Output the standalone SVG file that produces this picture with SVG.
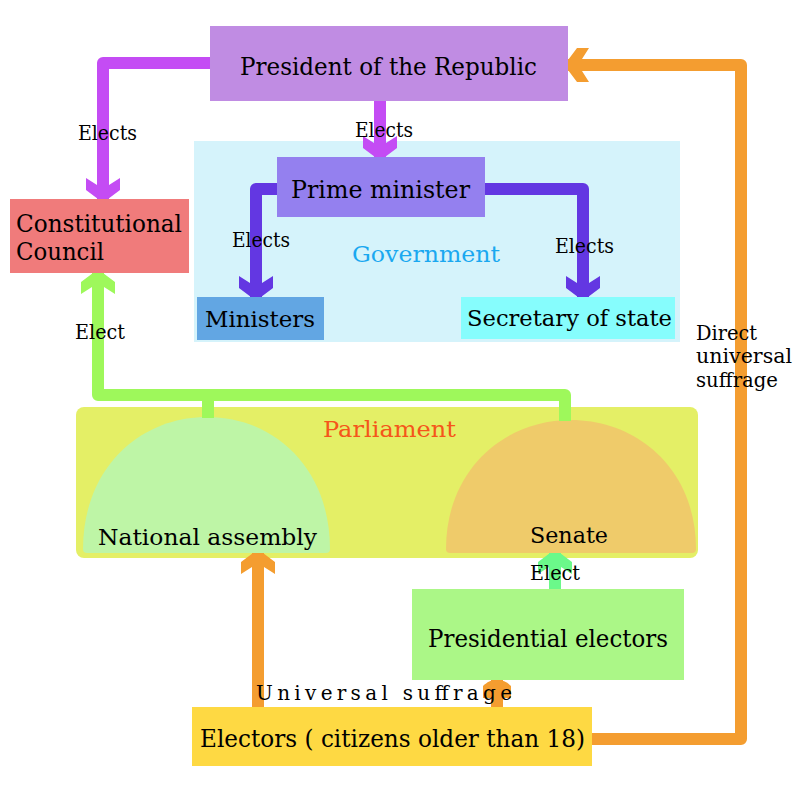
<svg xmlns="http://www.w3.org/2000/svg" width="800" height="800" viewBox="0 0 800 800">
<style>
text{font-family:"DejaVu Serif","Liberation Serif",serif;fill:#000}
.big{font-size:25px}
.mid{font-size:23px}
.lbl{font-size:20px}
.c{fill:none;stroke-width:12;stroke-linejoin:round}
</style>
<defs>
<marker id="ap" markerUnits="userSpaceOnUse" orient="auto" refX="0" refY="0" markerWidth="40" markerHeight="40" overflow="visible"><path d="M-21,-17 L-9,-17 L0,-5 L0,5 L-9,17 L-21,17 L-14,6 L-14,-6 Z" fill="#c44cf4"/></marker>
<marker id="ab" markerUnits="userSpaceOnUse" orient="auto" refX="0" refY="0" markerWidth="40" markerHeight="40" overflow="visible"><path d="M-21,-17 L-9,-17 L0,-5 L0,5 L-9,17 L-21,17 L-14,6 L-14,-6 Z" fill="#6337e2"/></marker>
<marker id="ao" markerUnits="userSpaceOnUse" orient="auto" refX="0" refY="0" markerWidth="40" markerHeight="40" overflow="visible"><path d="M-21,-17 L-9,-17 L0,-5 L0,5 L-9,17 L-21,17 L-14,6 L-14,-6 Z" fill="#f49d30"/></marker>
<marker id="ag" markerUnits="userSpaceOnUse" orient="auto" refX="0" refY="0" markerWidth="40" markerHeight="40" overflow="visible"><path d="M-21,-17 L-9,-17 L0,-5 L0,5 L-9,17 L-21,17 L-14,6 L-14,-6 Z" fill="#9ef85b"/></marker>
<marker id="ag2" markerUnits="userSpaceOnUse" orient="auto" refX="0" refY="0" markerWidth="40" markerHeight="40" overflow="visible"><path d="M-21,-17 L-9,-17 L0,-5 L0,5 L-9,17 L-21,17 L-14,6 L-14,-6 Z" fill="#6bf98a"/></marker>
<marker id="ao2" markerUnits="userSpaceOnUse" orient="auto" refX="0" refY="0" markerWidth="40" markerHeight="40" overflow="visible"><path d="M-18,-14 L-6,-14 C-2,-10 0,-6 0,0 C0,6 -2,10 -6,14 L-18,14 Z" fill="#f49d30"/></marker>
</defs>

<g id="government">
<rect x="194" y="141" width="486" height="201" fill="#d5f3fb"/>
<text x="352" y="262" class="mid" style="fill:#1aa8f0" textLength="148" lengthAdjust="spacingAndGlyphs">Government</text>
</g>
<g id="parliament">
<rect x="76" y="407" width="622" height="151" rx="8" fill="#e4ef66"/>
<text x="323" y="437" class="mid" style="fill:#f5561a" textLength="133" lengthAdjust="spacingAndGlyphs">Parliament</text>
</g>
<g id="president">
<rect x="210" y="26" width="358" height="75" fill="#c08ce3"/>
<text x="240" y="75" class="big" textLength="297" lengthAdjust="spacingAndGlyphs">President of the Republic</text>
</g>
<g id="council">
<rect x="10" y="199" width="179" height="74" fill="#f07b7b"/>
<text x="16" y="232" class="big" textLength="166" lengthAdjust="spacingAndGlyphs">Constitutional</text>
<text x="16" y="260" class="big" textLength="88" lengthAdjust="spacingAndGlyphs">Council</text>
</g>
<g id="prime-minister">
<rect x="277" y="157" width="208" height="60" fill="#9480ef"/>
<text x="291" y="198" class="big" textLength="179" lengthAdjust="spacingAndGlyphs">Prime minister</text>
</g>
<g id="ministers">
<rect x="197" y="297" width="127" height="43" fill="#62a6e3"/>
<text x="205" y="327" class="mid" textLength="110" lengthAdjust="spacingAndGlyphs">Ministers</text>
</g>
<g id="secretary">
<rect x="461" y="297" width="214" height="42" fill="#86fdfd"/>
<text x="467" y="326" class="mid" textLength="205" lengthAdjust="spacingAndGlyphs">Secretary of state</text>
</g>
<g id="national-assembly">
<path d="M83,549 C83,468 140,417 207,417 C274,417 330,468 330,549 Q330,553 326,553 L87,553 Q83,553 83,549 Z" fill="#bef5a6"/>
<text x="98" y="545" class="mid" textLength="219" lengthAdjust="spacingAndGlyphs">National assembly</text>
</g>
<g id="senate">
<path d="M446,549 C446,470 504,420 571,420 C638,420 696,470 696,549 Q696,553 692,553 L450,553 Q446,553 446,549 Z" fill="#efcb6a"/>
<text x="530" y="543" class="mid" textLength="78" lengthAdjust="spacingAndGlyphs">Senate</text>
</g>
<g id="presidential-electors">
<rect x="412" y="589" width="272" height="91" fill="#abf787"/>
<text x="428" y="647" class="big" textLength="240" lengthAdjust="spacingAndGlyphs">Presidential electors</text>
</g>
<g id="electors">
<rect x="192" y="707" width="400" height="59" fill="#fed943"/>
<text x="200" y="747" class="big" textLength="385" lengthAdjust="spacingAndGlyphs">Electors ( citizens older than 18)</text>
</g>

<g id="connectors">
<path class="c" d="M210,63 L103,63 L103,199" stroke="#c44cf4" marker-end="url(#ap)"/>
<path class="c" d="M380,101 L380,157" stroke="#c44cf4" marker-end="url(#ap)"/>
<path class="c" d="M277,189 L256,189 L256,297" stroke="#6337e2" marker-end="url(#ab)"/>
<path class="c" d="M485,189 L583,189 L583,297" stroke="#6337e2" marker-end="url(#ab)"/>
<path class="c" d="M592,739 L741,739 L741,65 L568,65" stroke="#f49d30" marker-end="url(#ao)"/>
<path class="c" d="M565,421 L565,395 L98,395 L98,273" stroke="#9ef85b" marker-end="url(#ag)"/>
<path class="c" d="M208,418 L208,395" stroke="#9ef85b"/>
<path class="c" d="M258,707 L258,553" stroke="#f49d30" marker-end="url(#ao)"/>
<path class="c" d="M555,589 L555,553" stroke="#6bf98a" marker-end="url(#ag2)"/>
<path class="c" d="M497,707 L497,680" stroke="#f49d30" marker-end="url(#ao2)"/>
</g>

<g id="labels">
<text x="78" y="140" class="lbl" textLength="59" lengthAdjust="spacingAndGlyphs">Elects</text>
<text x="355" y="137" class="lbl" textLength="58" lengthAdjust="spacingAndGlyphs">Elects</text>
<text x="232" y="247" class="lbl" textLength="58" lengthAdjust="spacingAndGlyphs">Elects</text>
<text x="555" y="253" class="lbl" textLength="59" lengthAdjust="spacingAndGlyphs">Elects</text>
<text x="75" y="339" class="lbl" textLength="50" lengthAdjust="spacingAndGlyphs">Elect</text>
<text x="530" y="580" class="lbl" textLength="50" lengthAdjust="spacingAndGlyphs">Elect</text>
<text x="696" y="340" class="lbl" textLength="61" lengthAdjust="spacingAndGlyphs">Direct</text>
<text x="696" y="363" class="lbl" textLength="96" lengthAdjust="spacingAndGlyphs">universal</text>
<text x="696" y="387" class="lbl" textLength="82" lengthAdjust="spacingAndGlyphs">suffrage</text>
<text x="256" y="700" class="lbl" textLength="256" lengthAdjust="spacing">Universal suffrage</text>
</g>
</svg>
